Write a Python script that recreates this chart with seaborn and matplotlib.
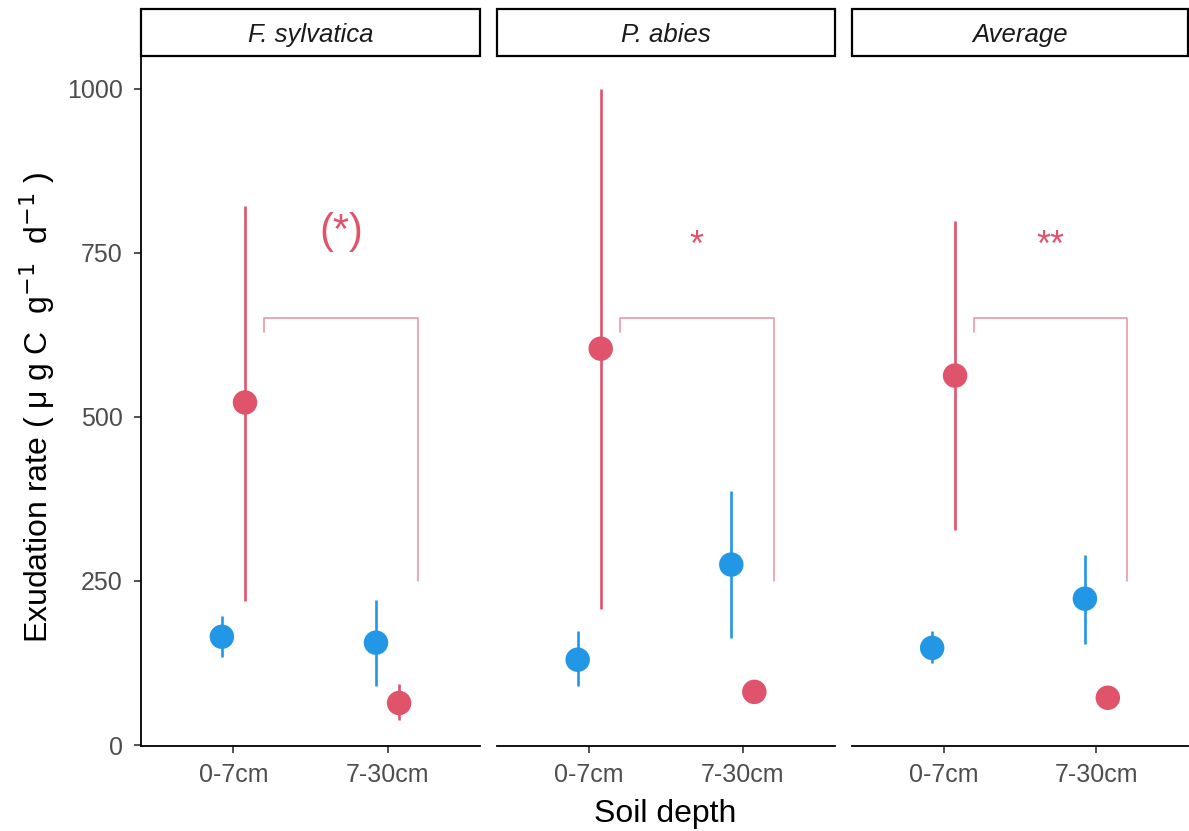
import numpy as np
import pandas as pd
import matplotlib
matplotlib.use("Agg")
import matplotlib.pyplot as plt
from matplotlib.patches import Rectangle
import seaborn as sns

sns.set_theme(style="ticks")
plt.rcParams['font.family'] = ['Liberation Sans', 'DejaVu Sans']

panels = ["F. sylvatica", "P. abies", "Average"]
depths = ["0-7cm", "7-30cm"]
groups = ["blue", "red"]

# values per panel: [blue 0-7, blue 7-30], [red 0-7, red 7-30]
blue_mean = [[165, 156], [130, 275], [148, 223]]
blue_lo   = [[134, 90],  [90, 163],  [125, 154]]
blue_hi   = [[196, 221], [174, 387], [174, 290]]
red_mean  = [[522, 64],  [604, 81],  [563, 72]]
red_lo    = [[220, 38],  [207, 81],  [328, 72]]
red_hi    = [[822, 93],  [1000, 81], [798, 72]]

sig_labels = ["(*)", "*", "**"]
sig_sizes = [30, 26, 26]
sig_y = [765, 745, 745]
bracket_top = 650
bracket_left_end = 630
bracket_right_end = 250

RED = "#DF536B"
BLUE = "#2297E6"

rows = []
for p, pan in enumerate(panels):
    for d, dep in enumerate(depths):
        rows.append(dict(panel=pan, depth=dep, di=d, group="blue",
                         mean=blue_mean[p][d], lo=blue_lo[p][d], hi=blue_hi[p][d]))
        rows.append(dict(panel=pan, depth=dep, di=d, group="red",
                         mean=red_mean[p][d], lo=red_lo[p][d], hi=red_hi[p][d]))
df = pd.DataFrame(rows)
offs = {"blue": -0.075, "red": 0.075}
df["x"] = df["di"] + df["group"].map(offs)

W, H = 1189, 831
fig = plt.figure(figsize=(W / 100, H / 100), dpi=100)
lefts = [141, 497, 852]
rights = [480, 835, 1188]
top_px, bot_px = 57, 746
axes = []
for i in range(3):
    ax = fig.add_axes([lefts[i] / W, 1 - bot_px / H, (rights[i] - lefts[i]) / W, (bot_px - top_px) / H])
    axes.append(ax)

gray30 = "#4D4D4D"
for i, (ax, pan) in enumerate(zip(axes, panels)):
    sub = df[df.panel == pan]
    for g, col in [("red", RED), ("blue", BLUE)]:
        s = sub[sub.group == g]
        ax.vlines(s["x"], s["lo"], s["hi"], color=col, lw=1.9, zorder=2)
    sns.scatterplot(data=sub, x="x", y="mean", hue="group",
                    palette={"blue": BLUE, "red": RED}, s=310, edgecolor="none",
                    legend=False, ax=ax, zorder=3)
    # significance bracket
    bc = "#E8919F"
    ax.plot([0.2, 0.2, 1.2, 1.2],
            [bracket_left_end, bracket_top, bracket_top, bracket_right_end],
            color=bc, lw=1.1, zorder=1)
    ax.text(0.7, sig_y[i], sig_labels[i], color=RED, fontsize=sig_sizes[i],
            ha="center", va="baseline")
    ax.set_xlim(-0.6, 1.6)
    ax.set_ylim(-1.5, 1048.5)
    ax.set_xticks([0, 1])
    ax.set_xticklabels(depths)
    ax.set_xlabel("")
    ax.set_ylabel("")
    ax.tick_params(axis="both", colors="#333333", labelcolor=gray30, labelsize=18,
                   length=5, width=1.2)
    ax.tick_params(axis="x", pad=7)
    ax.tick_params(axis="y", pad=8)
    for sp in ["top", "right"]:
        ax.spines[sp].set_visible(False)
    ax.spines["bottom"].set_linewidth(1.3)
    ax.spines["bottom"].set_color("black")
    ax.spines["left"].set_linewidth(1.3)
    ax.spines["left"].set_color("black")
    if i == 0:
        ax.set_yticks([0, 250, 500, 750, 1000])
    else:
        ax.spines["left"].set_visible(False)
        ax.set_yticks([])
    # strip
    hfrac = 49 / (bot_px - top_px)
    rect = Rectangle((0, 1.0 + 0.002), 1, hfrac - 0.004, transform=ax.transAxes,
                     facecolor="white", edgecolor="black", lw=1.6, clip_on=False)
    ax.add_patch(rect)
    ax.text(0.5, 1.0 + hfrac / 2 - 0.004, pan, transform=ax.transAxes, ha="center", va="center",
            fontsize=18.5, style="italic", color="#1A1A1A")

fig.text(665 / W, 1 - 814 / H, "Soil depth", ha="center", va="center",
         fontsize=23, color="black")
fig.text(37 / W, 1 - 407 / H,
         r"Exudation rate ( $\mathregular{\mu}$ g C  g$^{-1}$  d$^{-1}$ )",
         rotation=90, ha="center", va="center", fontsize=23, color="black")

fig.savefig("out.png", dpi=100)
